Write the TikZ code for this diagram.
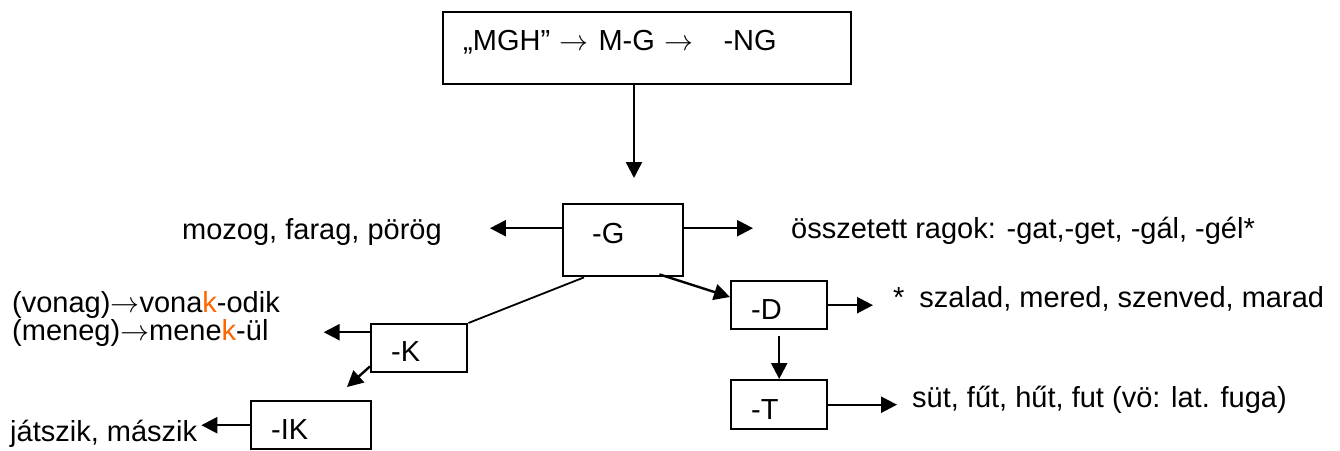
\RequirePackage{fix-cm}
\documentclass[tikz,border=0pt]{standalone}
\usepackage{fontspec}
\setmainfont{Liberation Sans}
\usepackage{tikz}
\usetikzlibrary{
  arrows.meta,calc,positioning
}
\definecolor{SuffixOrange}{RGB}{255,102,0}

\begin{document}
\begin{tikzpicture}[x=1pt,y=-1pt,
    font=\fontsize{29}{34}\selectfont,
    box/.style={draw,line width=2.4pt,anchor=north west,align=left,
      inner xsep=20pt,inner ysep=0pt},
    word/.style={anchor=base west,inner sep=0pt},
    arr/.style={line width=2.4pt,-{Triangle[length=16pt,width=16pt]}}]
      \useasboundingbox (0,0) rectangle (1340,450);
      % boxes
      \node[box,text width=368pt,text height=38pt,text depth=34pt] (mgh) at (442,11)
        {„MGH” $\rightarrow$ M-G $\rightarrow$\hspace{30pt}-NG};
      \node[box,inner xsep=29pt,text width=62pt,text height=39pt,text depth=33pt] (g) at (562,203) {-G};
      \node[box,text width=56pt,text height=38pt,text depth=10pt] (d) at (730,280) {-D};
      \node[box,text width=56pt,text height=39pt,text depth=10pt] (t) at (730,379) {-T};
      \node[box,text width=56pt,text height=37pt,text depth=11pt] (k) at (370,323) {-K};
      \node[box,text width=80pt,text height=38pt,text depth=10pt] (ik) at (250,400) {-IK};
      % words
      \node[word] (mozog) at (182,239) {mozog, farag, pörög};
      \node[word] (ossz) at (791,238) {összetett ragok: -gat,-get, -gál, -gél*};
      \node[word] (szalad) at (893,307) {*\hspace{15pt}szalad, mered, szenved, marad};
      \node[word] (sut) at (912,407) {süt, fűt, hűt, fut (vö: lat. fuga)};
      \node[word] (vonag) at (12,312) {(vonag)$\rightarrow$vona\textcolor{SuffixOrange}{k}-odik};
      \node[word] (meneg) at (12,340) {(meneg)$\rightarrow$mene\textcolor{SuffixOrange}{k}-ül};
      \node[word] (jatszik) at (10,441) {játszik, mászik};
      % connectors
      \coordinate (gin) at (634,178);
      \draw[arr] (mgh.south -| gin) -- (gin);
      \coordinate (gw) at ([yshift=12pt]g.west);
      \coordinate (ge) at ([yshift=12pt]g.east);
      \draw[arr,shorten >=48pt] (gw) -- (mozog.east |- gw);
      \draw[arr,shorten >=38pt] (ge) -- (ossz.west |- ge);
      \draw[line width=1.8pt] ([xshift=22pt]g.south west) -- (k.north east);
      \draw[arr] ([xshift=-25pt,yshift=3pt]g.south east) -- ([yshift=-17pt]d.north west);
      \draw[arr,shorten >=20pt] (d.east) -- (szalad.west |- d.east);
      \draw[arr,shorten <=6pt] (d.south) -- (t.north);
      \draw[arr,shorten >=15pt] (t.east) -- (sut.west |- t.east);
      \coordinate (kw) at ([yshift=16pt]k.west);
      \draw[arr,shorten >=55pt] (kw) -- (meneg.east |- kw);
      \coordinate (kik) at (347,387);
      \draw[arr] ([yshift=7pt]k.south west) -- (kik);
      \draw[arr,shorten >=4pt] (ik.west) -- (jatszik.east |- ik.west);
\end{tikzpicture}
\end{document}
